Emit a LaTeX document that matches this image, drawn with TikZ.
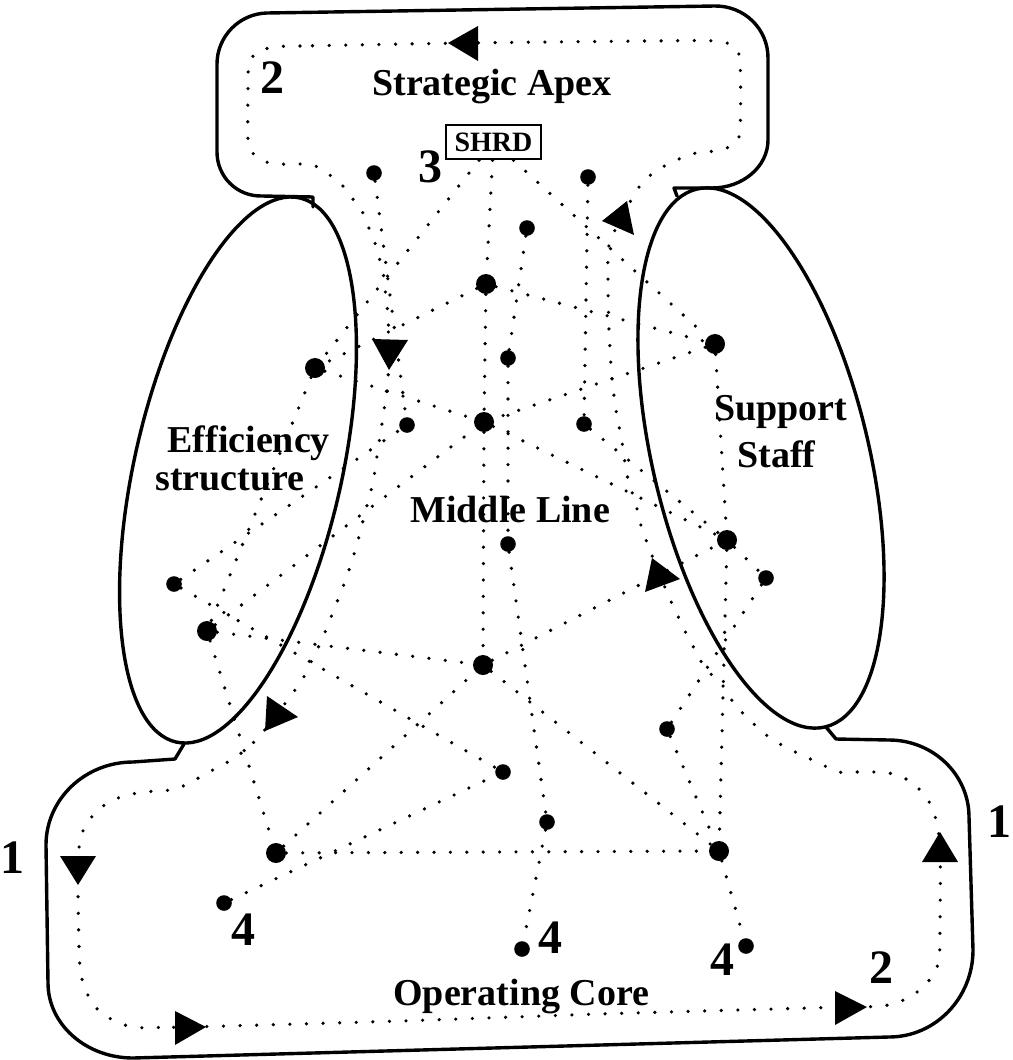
\documentclass[tikz,border=0pt]{standalone}
\usepackage{fontspec}
\setmainfont{Liberation Serif}
\begin{document}
\begin{tikzpicture}[x=0.5pt, y=-0.5pt,
  bigdot/.style={circle, fill=black, inner sep=0pt, minimum size=10pt},
  smalldot/.style={circle, fill=black, inner sep=0pt, minimum size=7.8pt},
  link/.style={line width=1.8pt, line cap=round, dash pattern=on 0pt off 8.2pt},
  flow/.style={line width=1.8pt, line cap=round, dash pattern=on 0pt off 8.3pt},
  outline/.style={line width=1.7pt, line join=round, line cap=round},
  arrowtri/.style={fill=black},
  lbl/.style={font=\bfseries\fontsize{19pt}{23pt}\selectfont, inner sep=0pt},
  digit/.style={font=\bfseries\fontsize{24pt}{28pt}\selectfont, inner sep=0pt},
  tag/.style={draw, line width=1.3pt, inner sep=0pt, minimum width=47.5pt, minimum height=17pt,
    font=\bfseries\fontsize{14pt}{16pt}\selectfont}]

\fill[white] (0,0) rectangle (1012,1060);
\useasboundingbox (0,0) rectangle (1012,1060);

% ---------- outline: apex box, two side ellipses, operating core ----------
\draw[outline] (313,207) -- (313,197) -- (262,196)
  .. controls (237,196.6) and (217,176.8) .. (217,152) -- (217,64)
  .. controls (217,36.4) and (239.4,13.6) .. (267,13) -- (715,6)
  .. controls (744.3,5.8) and (768,28.7) .. (768,58) -- (768,140)
  .. controls (768,166.5) and (742.9,188) .. (712,188) -- (674,188) -- (677,196);

\draw[outline, rotate around={-12.8:(238,470)}] (238,470) ellipse [x radius=103.6, y radius=279];
\draw[outline, rotate around={13.4:(761,458)}] (761,458) ellipse [x radius=108, y radius=276.5];

\draw[outline] (184,744) -- (175,759) -- (133,762)
  .. controls (85,762) and (46,799.2) .. (46,845) -- (48,983)
  .. controls (48,1024.4) and (86,1058) .. (133,1058) -- (889,1037)
  .. controls (935.4,1037) and (973,998) .. (973,950) -- (969,817)
  .. controls (969,774.5) and (933,740) .. (889,740) -- (836,739) -- (826,727);

% ---------- flow loop markers ----------
\coordinate (Ta) at (467,43);
\coordinate (Tb) at (621,219);
\coordinate (Tc) at (390,350);
\coordinate (Td) at (660,575);
\coordinate (Te) at (278,713);
\coordinate (Tf) at (78,866);
\coordinate (Tg) at (188,1027);
\coordinate (Th) at (848,1007);
\coordinate (Ti) at (940,848);

\draw[flow] plot[smooth cycle, tension=0.5] coordinates {
  (Ta) (300,46) (275,47) (257,52) (249,65) (248,90) (248,140) (252,152) (261,160) (276,164)
  (300,164) (313,165) (327,173) (342,185) (352,198) (362,211) (368,226) (374,240) (379,257)
  (383,272) (385,289) (387,305) (388,320) (Tc)
  (387,387) (383,417) (378,449) (373,482) (365,513) (357,544) (347,576) (335,607) (323,637)
  (312,660) (302,680) (Te)
  (263,732) (253,743) (240,754) (226,763) (209,772) (193,781) (176,789) (159,791) (143,792)
  (124,796) (109,802) (96,812) (86,825) (80,840) (Tf)
  (78,895) (79,945) (80,967) (83,983) (90,999) (100,1012) (113,1020) (128,1026) (147,1028)
  (167,1027) (Tg) (400,1021) (600,1014) (Th)
  (877,1007) (895,1003) (910,997) (923,987) (933,975) (939,960) (940,930) (Ti)
  (935,816) (928,800) (918,788) (906,779) (889,773) (872,772) (855,772) (838,772) (821,764)
  (804,756) (787,748) (772,739) (760,730) (748,718) (735,705) (723,686) (705,668) (698,655)
  (690,641) (683,627) (676,612) (669,597) (Td)
  (651,553) (645,537) (640,522) (636,505) (627,475) (622,442) (616,410) (612,378) (609,330)
  (608,280) (609,245) (Tb)
  (637,190) (648,177) (670,163) (696,153) (715,151) (733,145) (740,130) (740,62) (734,47)
  (715,41) (650,41)};

% ---------- network points ----------
\node[smalldot] (a1) at (374,173) {};
\node[smalldot] (a2) at (588,177) {};
\node[smalldot] (d3) at (527,228) {};
\node[bigdot]   (d4) at (486,284) {};
\node[bigdot]   (d5) at (315,368) {};
\node[smalldot] (d6) at (508,358) {};
\node[bigdot]   (d7) at (715,344) {};
\node[smalldot] (d8) at (407,425) {};
\node[bigdot]   (d9) at (484,422) {};
\node[smalldot] (d10) at (584,424) {};
\node[smalldot] (d11) at (508,544) {};
\node[bigdot]   (d12) at (727,540) {};
\node[smalldot] (d13) at (766,578) {};
\node[smalldot] (d14) at (174,584) {};
\node[bigdot]   (d15) at (207,631) {};
\node[bigdot]   (d16) at (483,665) {};
\node[smalldot] (d17) at (667,729) {};
\node[smalldot] (d18) at (503,772) {};
\node[smalldot] (d19) at (547,822) {};
\node[bigdot]   (d20) at (276,853) {};
\node[bigdot]   (d21) at (719,851) {};
\node[smalldot] (d22) at (224,903) {};
\node[smalldot] (d23) at (522,949) {};
\node[smalldot] (d24) at (746,946) {};

\node[tag] (shrd) at (493.5,142) {SHRD};

% ---------- dotted links ----------
\foreach \p/\q in {shrd/d4, shrd/d5, shrd/d7, a1/d8, a2/d10, d3/d6, d4/d9, d4/d5, d4/d7,
  d6/d11, d5/d9, d5/d15, d14/d8, d15/d9, d15/d16, d15/d20, d14/d18, d7/d12, d7/d9,
  d9/d12, d10/d12, d12/d13, d16/d12, d20/d16, d20/d21, d22/d18, d16/d21, d11/d19,
  d19/d23, d17/d13, d17/d21, d12/d21, d21/d24, d9/d16}
  \draw[link] (\p) -- (\q);

% ---------- arrowheads on the loop ----------
\fill[arrowtri] (448,43) -- (478,26) -- (478,61) -- cycle;
\fill[arrowtri] (602,221) -- (627,201) -- (634,235) -- cycle;
\fill[arrowtri] (372,339) -- (408,340) -- (389,370) -- cycle;
\fill[arrowtri] (652,558) -- (645,592) -- (680,579) -- cycle;
\fill[arrowtri] (267,696) -- (265,731) -- (298,717) -- cycle;
\fill[arrowtri] (60,856) -- (96,856) -- (78,885) -- cycle;
\fill[arrowtri] (175,1011) -- (175,1045) -- (206,1027) -- cycle;
\fill[arrowtri] (835,991) -- (835,1025) -- (867,1007) -- cycle;
\fill[arrowtri] (922,862) -- (958,862) -- (940,832) -- cycle;

% ---------- texts ----------
\node[lbl, anchor=base] (apex) at (492,95) {Strategic Apex};
\node[lbl, anchor=base west] (eff1) at (167,452) {Efficiency};
\node[lbl, anchor=base west] (eff2) at (155,490) {structure};
\node[lbl, anchor=base west] (mid) at (410,522) {Middle Line};
\node[lbl, anchor=base west] (sup1) at (714,420) {Support};
\node[lbl, anchor=base west] (sup2) at (737,467) {Staff};
\node[lbl, anchor=base west] (core) at (393,1005) {Operating Core};

\node[digit, anchor=base] (n2a) at (272,93) {2};
\node[digit, anchor=base] (n3) at (430,182) {3};
\node[digit, anchor=base] (n1a) at (12,873) {1};
\node[digit, anchor=base] (n1b) at (999,837) {1};
\node[digit, anchor=base] (n2b) at (881,983) {2};
\node[digit, anchor=base] (n4a) at (243,945) {4};
\node[digit, anchor=base] (n4b) at (550,953) {4};
\node[digit, anchor=base] (n4c) at (722,975) {4};

\end{tikzpicture}
\end{document}
